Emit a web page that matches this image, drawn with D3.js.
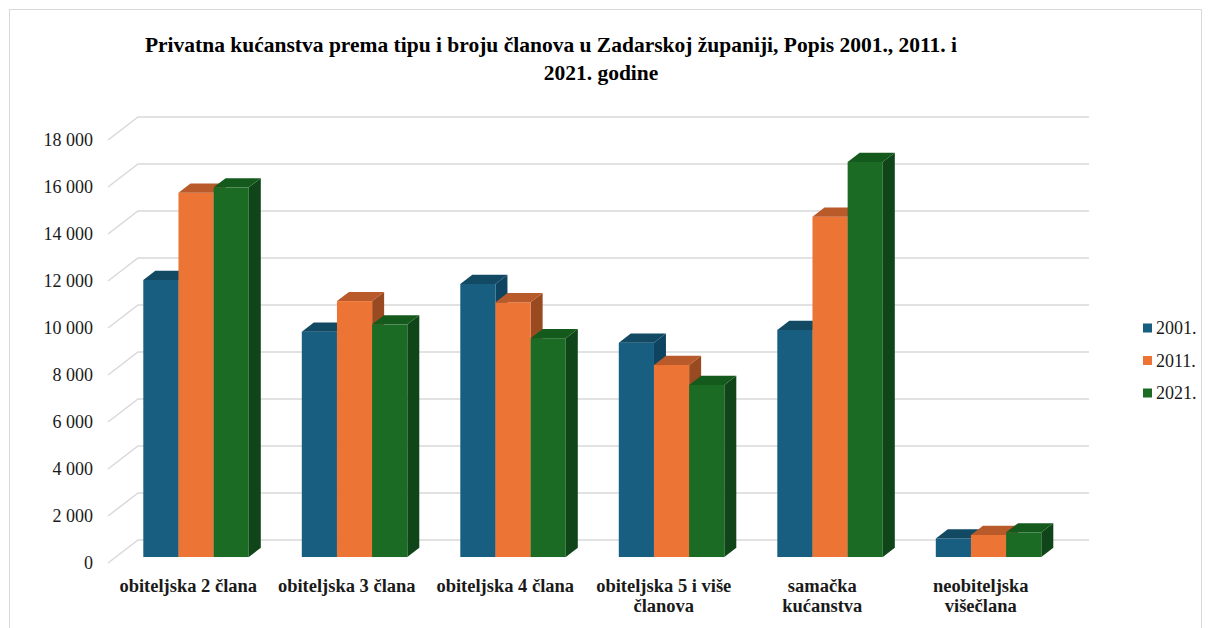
<!DOCTYPE html>
<html>
<head>
<meta charset="utf-8">
<script src="https://cdn.jsdelivr.net/npm/d3@7/dist/d3.min.js"></script>
<style>
  html, body { margin: 0; padding: 0; background: #ffffff; }
  svg { display: block; }
</style>
</head>
<body>
<svg id="chart" width="1208" height="628"></svg>
<script>
// ---- Data ----
const categories = ["obiteljska 2 člana", "obiteljska 3 člana", "obiteljska 4 člana", "obiteljska 5 i više članova", "samačka kućanstva", "neobiteljska višečlana"];
const categoryLabelLines = [["obiteljska 2 člana"], ["obiteljska 3 člana"], ["obiteljska 4 člana"], ["obiteljska 5 i više", "članova"], ["samačka", "kućanstva"], ["neobiteljska", "višečlana"]];
const seriesNames = ["2001.", "2011.", "2021."];
const values2001 = [11790, 9590, 11620, 9120, 9660, 790];
const values2011 = [15500, 10890, 10840, 8170, 14480, 940];
const values2021 = [15730, 9900, 9310, 7320, 16810, 1050];
const yTicks = [0, 2000, 4000, 6000, 8000, 10000, 12000, 14000, 16000, 18000];
const titleLines = ["Privatna kućanstva prema tipu i broju članova u Zadarskoj županiji, Popis 2001., 2011. i", "2021. godine"];

const seriesValues = [values2001, values2011, values2021];
const colors = {
  front: ["#175e80", "#ec7434", "#1c6b25"],
  top:   ["#124a64", "#b85a2a", "#145a1c"],
  side:  ["#0e4460", "#9a4a20", "#10451a"]
};
const FONT = "'Liberation Serif', 'Times New Roman', serif";

const svg = d3.select("#chart");

// chart border
svg.append("rect").attr("x", 9.5).attr("y", 9.5).attr("width", 1192).attr("height", 640)
  .attr("fill", "none").attr("stroke", "#d9d9d9").attr("stroke-width", 1);

// ---- Scales ----
const x = d3.scaleBand().domain(categories).range([109, 1060]).paddingInner(0).paddingOuter(0);
const y = d3.scaleLinear().domain([0, 18000]).range([563, 140]);
const depthX = 30, depthY = -23;   // full depth offset of the back wall
const t0 = 0.26, t1 = 0.66;        // bar depth span
const gap = 26.5;
const xs = d3.scaleBand().domain(seriesNames).range([gap, x.bandwidth() - gap]).padding(0);

// ---- Gridlines (walls) ----
const grid = svg.append("g");
yTicks.forEach(t => {
  const y0 = y(t);
  grid.append("path")
    .attr("d", `M${108},${y0} L${108 + depthX},${y0 + depthY} L${1059 + depthX},${y0 + depthY}`)
    .attr("fill", "none").attr("stroke", "#d9d9d9").attr("stroke-width", 1.5);
});

// ---- Y labels ----
const fmt = v => d3.format(",")(v).replace(/,/g, " ");
svg.append("g").selectAll("text").data(yTicks).join("text")
  .attr("x", 93).attr("y", d => y(d)).attr("dy", "0.35em")
  .attr("text-anchor", "end")
  .attr("font-family", FONT)
  .attr("font-size", 18).attr("fill", "#1a1a1a")
  .text(d => fmt(d));

// ---- Bars ----
const bars = svg.append("g");
categories.forEach((c, ci) => {
  seriesNames.forEach((s, si) => {
    const v = seriesValues[si][ci];
    const fx0 = x(c) + xs(s) + depthX * t0;
    const fx1 = fx0 + xs.bandwidth();
    const fyB = y(0) + depthY * t0;
    const fyT = y(v) + depthY * t0;
    const dx = depthX * (t1 - t0), dy = depthY * (t1 - t0);
    // side
    bars.append("path")
      .attr("d", `M${fx1},${fyT} L${fx1 + dx},${fyT + dy} L${fx1 + dx},${fyB + dy} L${fx1},${fyB} Z`)
      .attr("fill", colors.side[si]);
    // front
    bars.append("rect")
      .attr("x", fx0).attr("y", fyT).attr("width", fx1 - fx0).attr("height", fyB - fyT)
      .attr("fill", colors.front[si]);
    // top
    bars.append("path")
      .attr("d", `M${fx0},${fyT} L${fx1},${fyT} L${fx1 + dx},${fyT + dy} L${fx0 + dx},${fyT + dy} Z`)
      .attr("fill", colors.top[si]);
  });
});

// ---- X labels ----
const xl = svg.append("g");
categories.forEach((c, ci) => {
  const t = xl.append("text")
    .attr("text-anchor", "middle")
    .attr("font-family", FONT)
    .attr("font-weight", "bold").attr("font-size", 18.5).attr("fill", "#1a1a1a");
  categoryLabelLines[ci].forEach((line, li) => {
    t.append("tspan").attr("x", x(c) + x.bandwidth() / 2).attr("y", 592 + li * 20).text(line);
  });
});

// ---- Title ----
const titleX = [551, 601];
const title = svg.append("text")
  .attr("text-anchor", "middle")
  .attr("font-family", FONT)
  .attr("font-weight", "bold").attr("font-size", 21.5).attr("fill", "#000");
titleLines.forEach((line, i) => {
  title.append("tspan").attr("x", titleX[i]).attr("y", 52 + i * 28).text(line);
});

// ---- Legend ----
const lg = svg.append("g");
seriesNames.forEach((s, i) => {
  const cy = 328 + i * 32.5;
  lg.append("rect").attr("x", 1143).attr("y", cy - 4.5).attr("width", 9).attr("height", 9).attr("fill", colors.front[i]);
  lg.append("text").attr("x", 1156).attr("y", cy).attr("dy", "0.35em")
    .attr("font-family", FONT)
    .attr("font-size", 18).attr("fill", "#1a1a1a").text(s);
});
</script>
</body>
</html>
